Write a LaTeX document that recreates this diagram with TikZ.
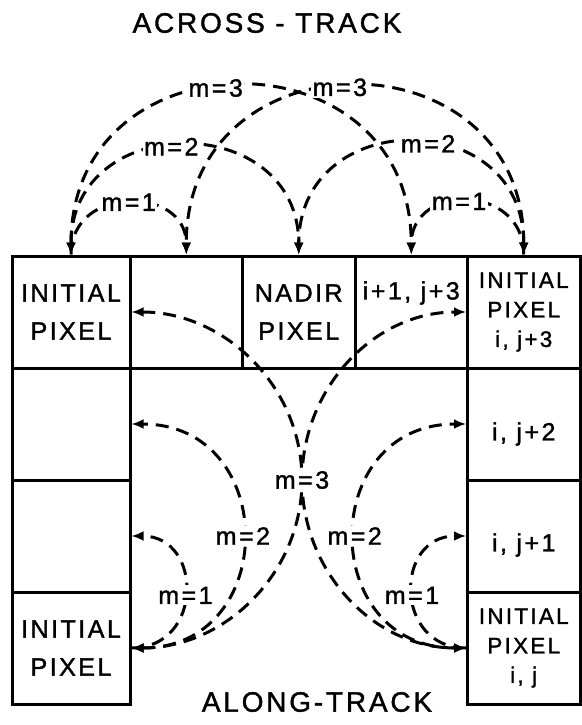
\documentclass[tikz,border=0pt]{standalone}
\usepackage{fontspec}
\newfontfamily\lettering[LetterSpace=10, FakeBold=1.4]{Liberation Sans}
\usetikzlibrary{arrows.meta}

\newcommand{\titletext}{\lettering\fontsize{28}{28}\selectfont}
\newcommand{\celltext}{\lettering\fontsize{25}{38}\selectfont}
\newcommand{\cellsmall}{\lettering\fontsize{22.5}{29.5}\selectfont}
\newcommand{\cellindex}{\lettering\fontsize{25}{25}\selectfont}
\newcommand{\hoptext}{\lettering\fontsize{25}{25}\selectfont}

\tikzset{
  pixelcell/.style={draw, line width=3pt, minimum width=112.5pt, minimum height=112pt, inner sep=0pt, align=center},
  hop/.style={line width=3pt, dash pattern=on 13pt off 8pt, -{Latex[length=12pt, width=10pt]}},
  hoptwo/.style={hop, {Latex[length=12pt, width=10pt]}-{Latex[length=12pt, width=10pt]}},
  mlabel/.style={fill=white, inner sep=1.5pt, font=\hoptext},
}

\begin{document}
\begin{tikzpicture}[x=1pt, y=-1pt]
    \useasboundingbox (0,0) rectangle (581,725);

    % top row of pixels
    \node[pixelcell, minimum width=118pt, font=\celltext] (p11) at (71,312) {INITIAL\\PIXEL};
    \node[pixelcell] (p12) at (186.25,312) {};
    \node[pixelcell, font=\celltext] (p13) at (298.75,312) {NADIR\\PIXEL};
    \node[pixelcell] (p14) at (411.25,312) {};
    \node[pixelcell, font=\cellsmall] (p15) at (523.75,312) {INITIAL\\PIXEL\\i, j+3};

    % left and right columns
    \node[pixelcell, minimum width=118pt] (p21) at (71,424) {};
    \node[pixelcell, minimum width=118pt] (p31) at (71,536) {};
    \node[pixelcell, minimum width=118pt, font=\celltext] (p41) at (71,648) {INITIAL\\PIXEL};
    \node[pixelcell] (p25) at (523.75,424) {};
    \node[pixelcell] (p35) at (523.75,536) {};
    \node[pixelcell, font=\cellsmall] (p45) at (523.75,648) {INITIAL\\PIXEL\\i, j};

    \node[font=\cellindex] (t14) at ([yshift=19pt]p14.center) {i+1, j+3};
    \node[font=\cellindex] (t25) at ([yshift=-10pt]p25.center) {i,\ j+2};
    \node[font=\cellindex] (t35) at ([yshift=-9pt]p35.center) {i,\ j+1};

    \node[font=\titletext] (across) at (267,23) {ACROSS - TRACK};
    \node[font=\titletext] (along) at (317,702) {ALONG-TRACK};

    % across-track hops
    \draw[hop, looseness=1.55] (p11.north) to[out=90, in=90] node[mlabel] {m=1} (p12.north);
    \draw[hoptwo, looseness=1.63] (p11.north) to[out=90, in=90] node[mlabel, pos=.46] {m=2} (p13.north);
    \draw[hoptwo, looseness=1.69] (p11.north) to[out=90, in=90] node[mlabel, pos=.45] {m=3} (p14.north);
    \draw[hop, looseness=1.63] (p15.north) to[out=90, in=90] node[mlabel, pos=.55] {m=1} (p14.north);
    \draw[hoptwo, looseness=1.7] (p15.north) to[out=90, in=90] node[mlabel, pos=.45] {m=2} (p13.north);
    \draw[hoptwo, looseness=1.7] (p15.north) to[out=90, in=90] node[mlabel, pos=.53] {m=3} (p12.north);

    % along-track hops
    \draw[hop, looseness=1.65] (p41.east) to[out=0, in=0] node[mlabel, pos=.48] {m=1} (p31.east);
    \draw[hoptwo, looseness=1.7] (p41.east) to[out=0, in=0] node[mlabel] {m=2} (p21.east);
    \draw[hop, looseness=1.65] (p45.west) to[out=180, in=180] node[mlabel, pos=.48] {m=1} (p35.west);
    \draw[hoptwo, looseness=1.7] (p45.west) to[out=180, in=180] node[mlabel] {m=2} (p25.west);

    \coordinate (x3) at (302,480);
    \draw[hoptwo] (p11.east) to[out=0, in=90] (x3) to[out=-90, in=180] (p45.west);
    \draw[hoptwo] (p41.east) to[out=0, in=-90] (x3) to[out=90, in=180] (p15.west);
    \node[mlabel] (m3) at (x3) {m=3};

\end{tikzpicture}
\end{document}
